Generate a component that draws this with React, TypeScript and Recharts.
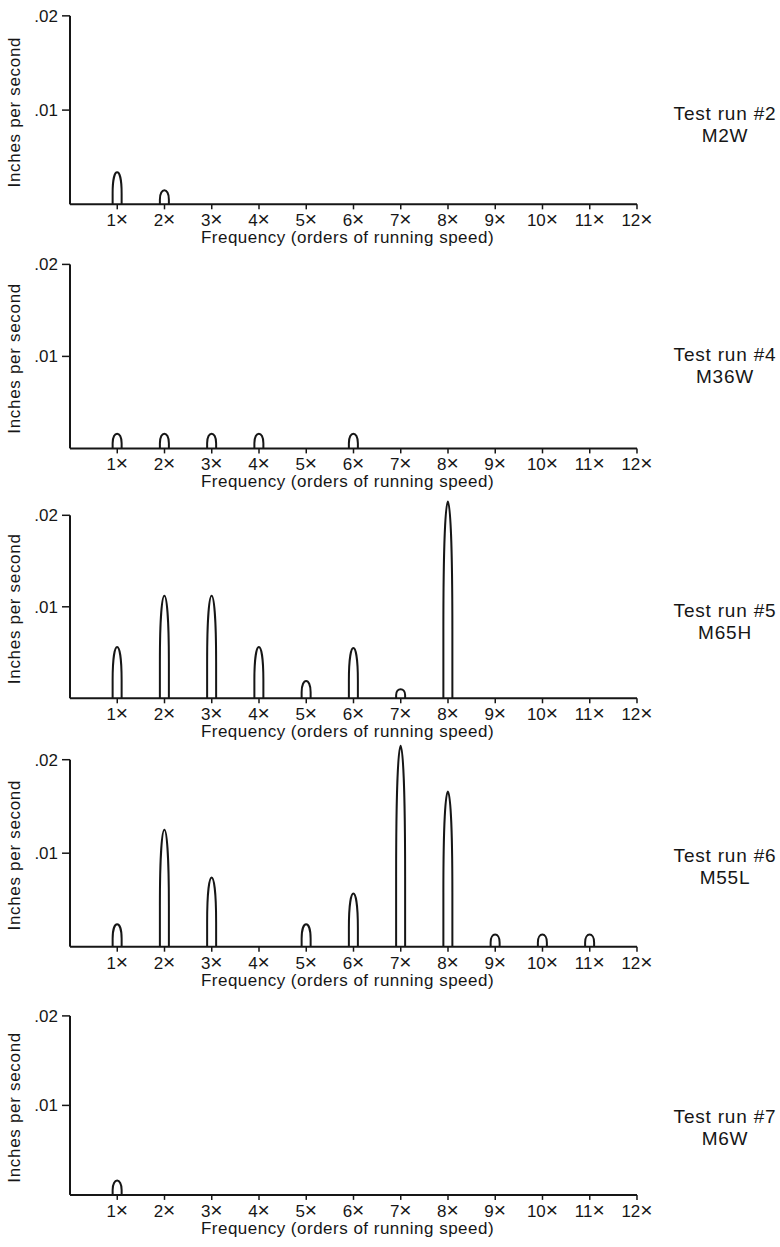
import React from 'react';
import { BarChart, Bar, XAxis, YAxis, ReferenceLine, Label } from 'recharts';

// orders of running speed on the x axis
const orders = [1, 2, 3, 4, 5, 6, 7, 8, 9, 10, 11, 12];

// peak amplitude (inches per second) at each order, one list per test run
const run2 = [0.0034, 0.0015, 0, 0, 0, 0, 0, 0, 0, 0, 0, 0];
const run4 = [0.0016, 0.0016, 0.0016, 0.0016, 0, 0.0016, 0, 0, 0, 0, 0, 0];
const run5 = [0.0056, 0.0112, 0.0112, 0.0056, 0.0019, 0.0055, 0.001, 0.0215, 0, 0, 0, 0];
const run6 = [0.0024, 0.0125, 0.0074, 0, 0.0024, 0.0057, 0.0215, 0.0166, 0.0013, 0.0013, 0.0013, 0];
const run7 = [0.0016, 0, 0, 0, 0, 0, 0, 0, 0, 0, 0, 0];

const runValues = [run2, run4, run5, run6, run7];
const runNames = ['Test run #2', 'Test run #4', 'Test run #5', 'Test run #6', 'Test run #7'];
const runCodes = ['M2W', 'M36W', 'M65H', 'M55L', 'M6W'];
const yTicks = [0.01, 0.02];

// page layout: y of the .02 tick, y of the baseline, y of the run label's first line
const panelTop = [15.5, 264, 515, 760, 1016];
const panelBase = [204, 448, 698, 947, 1195];
const labelMid = [114, 355, 611, 856, 1117];

const INK = '#161616';
const FONT = '"Liberation Sans", Arial, Helvetica, sans-serif';
const Y_MAX = 0.022;
const X_AXIS_H = 48;

// narrow arch drawn over the bar's box
const renderArch = (props: any) => {
  const { x, y, width, height } = props;
  if (!height || height <= 0) return <g />;
  const yb = y + height;
  const s = yb - height * 0.35;
  const c = (y - 0.25 * s) / 0.75;
  const d = `M${x},${yb} L${x},${s} C${x},${c} ${x + width},${c} ${x + width},${s} L${x + width},${yb}`;
  return <path d={d} fill="none" stroke={INK} strokeWidth={2} />;
};

// "1×" style tick with a larger multiplication sign
const OrderTick = (props: any) => {
  const { x, y, payload } = props;
  return (
    <text x={x} y={y} dy="0.71em" textAnchor="middle" fill={INK} fontSize={17}>
      {payload.value}
      <tspan fontSize={21}>×</tspan>
    </text>
  );
};

const fmtY = (v: number) => v.toFixed(2).replace(/^0/, '');

const Panel = ({ idx }: { idx: number }) => {
  const top = panelTop[idx];
  const base = panelBase[idx];
  const plotH = ((base - top) * Y_MAX) / 0.02;
  const chartTop = base - plotH;
  const data = orders.map((o, i) => ({ order: o, v: runValues[idx][i] }));
  const yLabelDy = (top + base) / 2 + 2 - (chartTop + plotH / 2);

  return (
    <>
      <div style={{ position: 'absolute', left: 0, top: chartTop }}>
        <BarChart
          width={780}
          height={plotH + X_AXIS_H}
          data={data}
          margin={{ top: 0, right: 143, left: 0, bottom: 0 }}
        >
          <XAxis
            dataKey="order"
            type="number"
            domain={[0, 12]}
            ticks={orders}
            interval={0}
            height={X_AXIS_H}
            tickSize={5}
            tickMargin={5}
            axisLine={{ stroke: INK, strokeWidth: 2 }}
            tickLine={{ stroke: INK, strokeWidth: 1.5 }}
            tick={<OrderTick />}
          >
            <Label
              value="Frequency (orders of running speed)"
              position="insideBottom"
              offset={X_AXIS_H - 39}
              dx={-6}
              fill={INK}
              fontSize={17}
              style={{ letterSpacing: '0.5px' }}
            />
          </XAxis>
          <YAxis
            type="number"
            domain={[0, Y_MAX]}
            ticks={yTicks}
            tickFormatter={fmtY}
            width={70}
            tickSize={8}
            tickMargin={4}
            axisLine={false}
            tickLine={{ stroke: INK, strokeWidth: 1.5 }}
            tick={{ fill: INK, fontSize: 17 }}
          >
            <Label
              value="Inches per second"
              angle={-90}
              position="insideLeft"
              offset={14}
              dy={yLabelDy}
              fill={INK}
              fontSize={17}
              style={{ textAnchor: 'middle', letterSpacing: '0.7px' }}
            />
          </YAxis>
          <ReferenceLine
            segment={[{ x: 0, y: 0 }, { x: 0, y: 0.02 }]}
            stroke={INK}
            strokeWidth={2}
          />
          <Bar dataKey="v" barSize={9} shape={renderArch} isAnimationActive={false} />
        </BarChart>
      </div>
      <div
        style={{
          position: 'absolute',
          left: 665,
          width: 120,
          top: labelMid[idx] - 11,
          textAlign: 'center',
          fontSize: 19,
          lineHeight: '22px',
          letterSpacing: '0.8px',
          color: INK,
        }}
      >
        <div>{runNames[idx]}</div>
        <div>{runCodes[idx]}</div>
      </div>
    </>
  );
};

export default function App() {
  return (
    <div
      style={{
        position: 'absolute',
        left: 0,
        top: 0,
        width: 780,
        height: 1247,
        background: '#fff',
        fontFamily: FONT,
        overflow: 'hidden',
      }}
    >
      {runValues.map((_, i) => (
        <Panel key={i} idx={i} />
      ))}
    </div>
  );
}
